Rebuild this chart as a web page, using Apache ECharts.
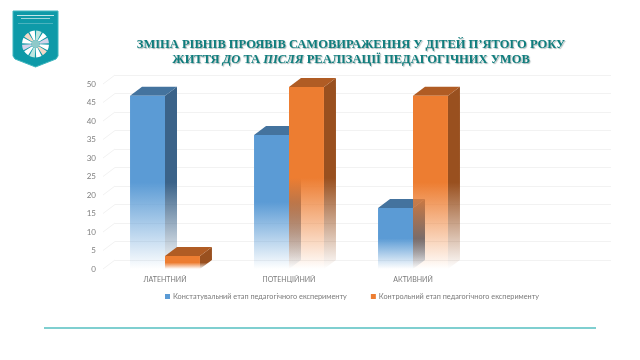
<!DOCTYPE html>
<html>
<head>
<meta charset="utf-8">
<style>
  html, body { margin: 0; padding: 0; background: #fff; }
  #chart { width: 640px; height: 360px; }
</style>
<script src="https://cdn.jsdelivr.net/npm/echarts@6/dist/echarts.min.js"></script>
</head>
<body>
<div id="chart"></div>
<script>
const categories = ['ЛАТЕНТНИЙ', 'ПОТЕНЦІЙНИЙ', 'АКТИВНИЙ', ''];
const seriesNames = ['Констатувальний етап педагогічного експерименту', 'Контрольний етап педагогічного експерименту'];
const baseline = [46.8, 36.2, 16.5];
const control = [3.5, 49.2, 46.8];
const yTicks = [0, 5, 10, 15, 20, 25, 30, 35, 40, 45, 50];

// depth of the fake 3d, px
const dx = 12;
const dy = -9;
const labelFont = 'Lato, "Open Sans", sans-serif';

function rgba(c, a) {
  return `rgba(${c[0]},${c[1]},${c[2]},${a})`;
}

// solid down to half of the bar, then fades out to the floor
function fade(c, top, bottom) {
  return new echarts.graphic.LinearGradient(0, top, 0, bottom, [
    { offset: 0, color: rgba(c, 1) },
    { offset: 0.5, color: rgba(c, 1) },
    { offset: 1, color: rgba(c, 0) }
  ], true);
}

function bar3d(side, front, right, roof) {
  return (params, api) => {
    const center = api.coord([api.value(0), api.value(1)]);
    const floor = api.coord([api.value(0), 0]);
    const w = api.size([1, 0])[0] * 0.282;
    const x0 = side === 0 ? center[0] - w : center[0];
    const x1 = x0 + w;
    const top = center[1];
    const bot = floor[1];
    return {
      type: 'group',
      children: [
        {
          type: 'polygon',
          shape: { points: [[x1, top], [x1 + dx, top + dy], [x1 + dx, bot + dy], [x1, bot]] },
          style: { fill: fade(right, top, bot) }
        },
        {
          type: 'polygon',
          shape: { points: [[x0, top], [x0 + dx, top + dy], [x1 + dx, top + dy], [x1, top]] },
          style: { fill: rgba(roof, 1) }
        },
        {
          type: 'rect',
          shape: { x: x0, y: top, width: w, height: bot - top },
          style: { fill: fade(front, top, bot) }
        }
      ]
    };
  };
}

function diagonal(params, api) {
  const p = api.coord([0, api.value(0)]);
  const x = params.coordSys.x;
  return {
    type: 'line',
    shape: { x1: x, y1: p[1], x2: x + dx, y2: p[1] + dy },
    style: { stroke: '#f2f2f2', lineWidth: 1 }
  };
}

// logo flower
const petals = [];
const petalColors = ['#ffffff', '#f3d9c8', '#ffffff', '#bfe6e0', '#ffffff', '#d5d3ea'];
for (let i = 0; i < 12; i++) {
  petals.push({
    type: 'sector',
    shape: {
      cx: 35.5, cy: 44, r0: 4, r: 13.5,
      startAngle: i * Math.PI / 6 + 0.05,
      endAngle: (i + 1) * Math.PI / 6 - 0.05
    },
    style: { fill: petalColors[i % 6] }
  });
}

const chart = echarts.init(document.getElementById('chart'));

chart.setOption({
  animation: false,
  backgroundColor: '#ffffff',
  title: {
    left: 346,
    top: 33,
    textAlign: 'center',
    text: 'ЗМІНА РІВНІВ ПРОЯВІВ САМОВИРАЖЕННЯ У ДІТЕЙ П’ЯТОГО РОКУ\n{b|ЖИТТЯ }{i|ДО}{b| ТА }{i|ПІСЛЯ}{b| РЕАЛІЗАЦІЇ ПЕДАГОГІЧНИХ УМОВ}',
    textStyle: {
      fontFamily: '"Liberation Serif", serif',
      fontSize: 12.5,
      fontWeight: 'bold',
      color: '#0f7d7d',
      lineHeight: 14.5,
      textShadowColor: 'rgba(60,90,90,0.45)',
      textShadowBlur: 1,
      textShadowOffsetX: 1,
      textShadowOffsetY: 1,
      rich: {
        b: {
          fontFamily: '"Liberation Serif", serif', fontSize: 12.5, fontWeight: 'bold', color: '#0f7d7d', lineHeight: 14.5,
          textShadowColor: 'rgba(60,90,90,0.45)', textShadowBlur: 1, textShadowOffsetX: 1, textShadowOffsetY: 1
        },
        i: {
          fontFamily: '"Liberation Serif", serif', fontSize: 12.5, fontWeight: 'bold', fontStyle: 'italic', color: '#0f7d7d', lineHeight: 14.5,
          textShadowColor: 'rgba(60,90,90,0.45)', textShadowBlur: 1, textShadowOffsetX: 1, textShadowOffsetY: 1
        }
      }
    }
  },
  legend: {
    data: seriesNames,
    left: 165,
    top: 293,
    icon: 'rect',
    itemWidth: 5,
    itemHeight: 5,
    itemGap: 24,
    padding: 0,
    selectedMode: false,
    textStyle: { fontFamily: labelFont, fontSize: 7.3, color: '#7a7a7a', padding: [0, 0, 0, -2] }
  },
  grid: [
    { left: 103, right: 41, top: 84, bottom: 91 },
    { left: 115, right: 29, top: 75, bottom: 100 }
  ],
  xAxis: [
    {
      type: 'category',
      gridIndex: 0,
      data: categories,
      axisLine: { show: false },
      axisTick: { show: false },
      axisLabel: { color: '#7a7a7a', fontFamily: labelFont, fontSize: 7, margin: 7, interval: 0 }
    },
    { type: 'category', gridIndex: 1, data: categories, show: false }
  ],
  yAxis: [
    {
      type: 'value',
      gridIndex: 0,
      min: 0,
      max: 50,
      interval: 5,
      axisLine: { show: false },
      axisTick: { show: false },
      splitLine: { show: false },
      axisLabel: { color: '#7f7f7f', fontFamily: labelFont, fontSize: 8, margin: 7 }
    },
    {
      type: 'value',
      gridIndex: 1,
      min: 0,
      max: 50,
      interval: 5,
      axisLine: { show: false },
      axisTick: { show: false },
      axisLabel: { show: false },
      splitLine: { lineStyle: { color: '#f2f2f2', width: 1 } }
    }
  ],
  series: [
    {
      type: 'custom',
      coordinateSystem: 'cartesian2d',
      xAxisIndex: 0,
      yAxisIndex: 0,
      data: yTicks.map(v => [v]),
      encode: { y: 0 },
      renderItem: diagonal,
      silent: true
    },
    {
      name: seriesNames[0],
      type: 'custom',
      xAxisIndex: 0,
      yAxisIndex: 0,
      itemStyle: { color: '#5b9bd5' },
      data: baseline.map((v, i) => [i, v]),
      encode: { x: 0, y: 1 },
      renderItem: bar3d(0, [91, 155, 213], [59, 99, 137], [68, 115, 158])
    },
    {
      name: seriesNames[1],
      type: 'custom',
      xAxisIndex: 0,
      yAxisIndex: 0,
      itemStyle: { color: '#ed7d31' },
      data: control.map((v, i) => [i, v]),
      encode: { x: 0, y: 1 },
      renderItem: bar3d(1, [237, 125, 49], [153, 80, 31], [176, 92, 36])
    }
  ],
  graphic: [
    {
      type: 'polygon',
      shape: { points: [[13, 11], [58, 11], [58, 56], [56, 59], [35.5, 67], [15, 59], [13, 56]] },
      style: { fill: '#0e9aa8', stroke: '#3fb6be', lineWidth: 1 }
    },
    { type: 'rect', shape: { x: 17, y: 15, width: 37, height: 1 }, style: { fill: 'rgba(255,255,255,0.75)' } },
    { type: 'rect', shape: { x: 21, y: 18, width: 29, height: 1 }, style: { fill: 'rgba(255,255,255,0.6)' } },
    { type: 'rect', shape: { x: 18, y: 23, width: 35, height: 0.6 }, style: { fill: 'rgba(255,255,255,0.5)' } },
    { type: 'group', children: petals },
    { type: 'circle', shape: { cx: 35.5, cy: 44, r: 4 }, style: { fill: '#8fc9c9' } },
    { type: 'rect', shape: { x: 44, y: 327, width: 552, height: 2 }, style: { fill: '#7fcfd0' } }
  ]
});

window.addEventListener('resize', () => {
  chart.resize();
});
</script>
</body>
</html>
